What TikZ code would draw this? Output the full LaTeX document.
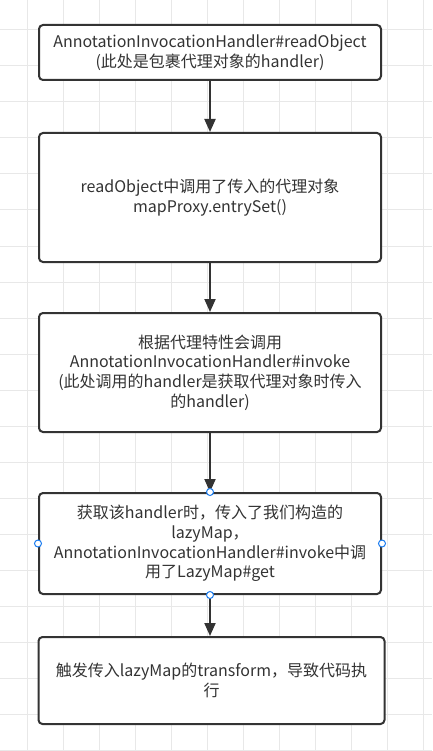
\documentclass[tikz,border=0pt]{standalone}
\usepackage{fontspec}
\setmainfont{Noto Sans CJK SC}
\usepackage{xcolor}
\usetikzlibrary{arrows.meta}
\definecolor{boxline}{HTML}{333333}
\definecolor{gridline}{HTML}{E8E8E8}
\definecolor{handle}{HTML}{1A7CF0}
\tikzset{
  stepbox/.style={draw=boxline, line width=2pt, rounded corners=4pt, fill=white,
    text=boxline, align=center, font=\fontsize{16}{19.7}\selectfont,
    minimum width=342pt, inner sep=0pt},
  flow/.style={draw=boxline, line width=2pt,
    -{Triangle[length=13pt, width=11pt]}},
  handledot/.style={circle, draw=handle, fill=white, line width=1pt,
    minimum size=7pt, inner sep=0pt}
}
\begin{document}
\begin{tikzpicture}[x=1pt, y=-1pt]
        % canvas
        \useasboundingbox (0,0) rectangle (432,751);
        \fill[white] (0,0) rectangle (432,751);
        \foreach \gx in {27.3,63.3,...,432} \draw[gridline, line width=1pt] (\gx,0) -- (\gx,751);
        \foreach \gy in {30,66,...,751} \draw[gridline, line width=1pt] (0,\gy) -- (432,\gy);

        % Steps
        \node[stepbox, minimum height=55pt] (readobj) at (210,52.5)
          {AnnotationInvocationHandler\#readObject\\(此处是包裹代理对象的handler)};
        \node[stepbox, minimum height=129pt] (entryset) at (210,197.5)
          {readObject中调用了传入的代理对象\\mapProxy.entrySet()};
        \node[stepbox, minimum height=119pt] (invoke) at (210,372.5)
          {根据代理特性会调用\\AnnotationInvocationHandler\#invoke\\(此处调用的handler是获取代理对象时传入\\的handler)};
        \node[stepbox, minimum height=101pt] (lazyget) at (210,543.5)
          {获取该handler时，传入了我们构造的\\lazyMap，\\AnnotationInvocationHandler\#invoke中调\\用了LazyMap\#get};
        \node[stepbox, minimum height=87pt, minimum width=346pt] (transform) at (211.5,680.5)
          {触发传入lazyMap的transform，导致代码执\\行};

        % Arrows
        \draw[flow] (readobj) -- (entryset);
        \draw[flow] (entryset) -- (invoke);
        \draw[flow] (invoke) -- (lazyget);
        \draw[flow] (lazyget.south) -- (lazyget.south |- transform.north);

        % selection handles
        \foreach \side in {north,south,east,west} \node[handledot] at (lazyget.\side) {};
\end{tikzpicture}
\end{document}
